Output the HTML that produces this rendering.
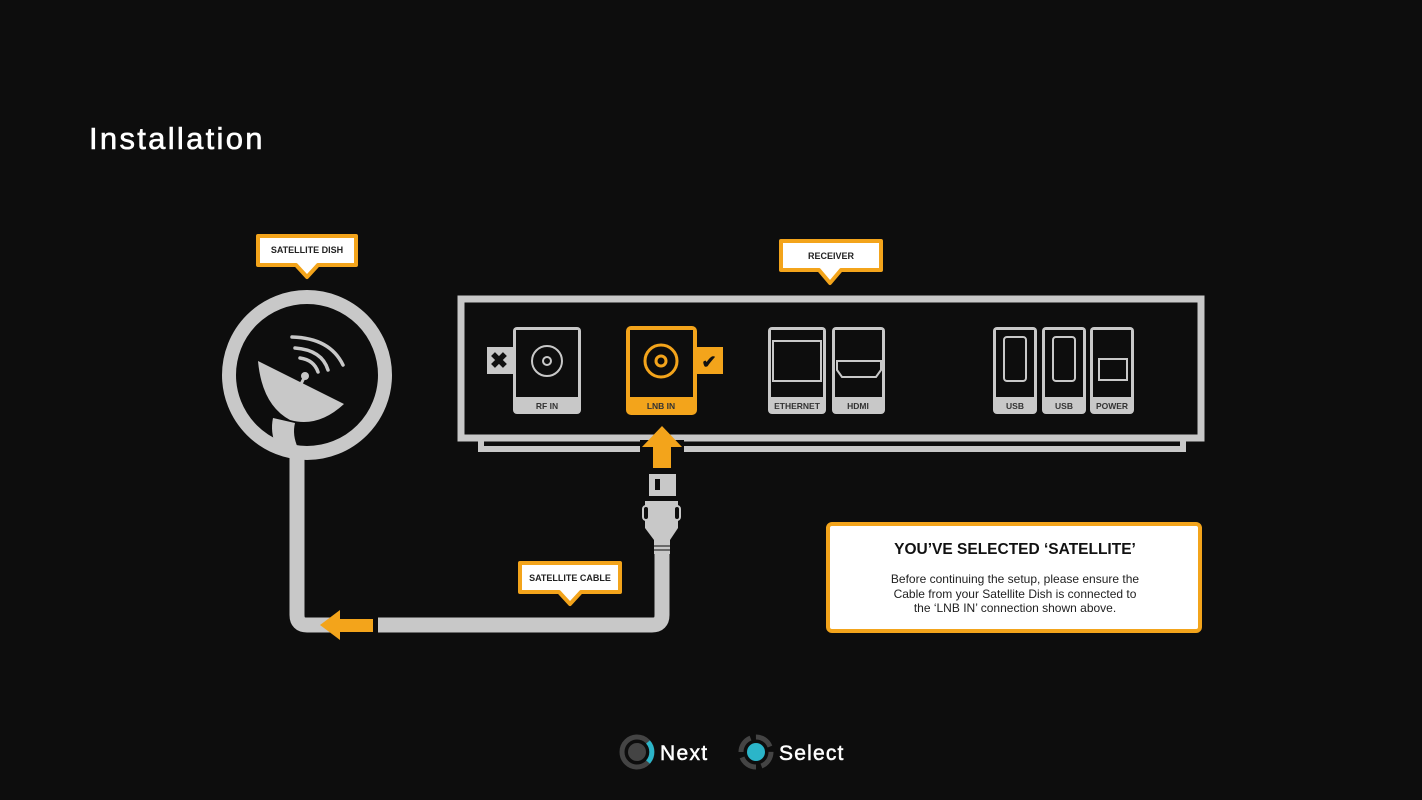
<!DOCTYPE html>
<html><head><meta charset="utf-8"><style>
html,body{margin:0;padding:0;background:#0d0d0d;}
svg{display:block}
text{font-family:"Liberation Sans",sans-serif;}
</style></head><body>
<svg width="1422" height="800" viewBox="0 0 1422 800" xmlns="http://www.w3.org/2000/svg">
<rect width="1422" height="800" fill="#0d0d0d"/>
<text x="89" y="149" fill="#fff" font-size="31" stroke="#fff" stroke-width="0.6" letter-spacing="2.3">Installation</text>

<!-- cable -->
<path d="M297 455 V615 Q297 625 307 625 H340" fill="none" stroke="#c8c8c8" stroke-width="15"/>
<path d="M378 625 H652 Q662 625 662 615 V540" fill="none" stroke="#c8c8c8" stroke-width="15"/>
<polygon points="320,625 340,610 340,619 373,619 373,632 340,632 340,640" fill="#f3a41b"/>

<!-- dish circle -->
<circle cx="307" cy="375" r="78" fill="none" stroke="#c8c8c8" stroke-width="14"/>
<path d="M258 361 L344 404 Q318 428 290 420 Q262 405 258 361 Z" fill="#c8c8c8"/>
<path d="M273 418 Q270 432 276 446 L298 448 Q292 435 295 423 Z" fill="#c8c8c8"/>
<circle cx="305" cy="376" r="4" fill="#c8c8c8"/>
<line x1="305" y1="376" x2="300" y2="386" stroke="#c8c8c8" stroke-width="3"/>
<g fill="none" stroke="#c8c8c8" stroke-width="3.5" stroke-linecap="round">
<path d="M300 358 Q314 360 318 372"/>
<path d="M295 348 Q322 350 328 370"/>
<path d="M292 337 Q330 338 343 365"/>
</g>

<!-- callout satellite dish -->
<path d="M258 236 H356 V265 H318 L307 277 L296 265 H258 Z" fill="#fff" stroke="#f3a41b" stroke-width="4" stroke-linejoin="round"/>
<text x="307" y="253" font-size="9" text-anchor="middle" fill="#222" font-weight="bold">SATELLITE DISH</text>

<!-- receiver -->
<path d="M481 440 V449 H1183 V440" fill="none" stroke="#c8c8c8" stroke-width="6"/>
<rect x="461" y="299" width="740" height="139" fill="#0d0d0d" stroke="#c8c8c8" stroke-width="7"/>
<path d="M781 241 H881 V270 H841 L830 283 L819 270 H781 Z" fill="#fff" stroke="#f3a41b" stroke-width="4" stroke-linejoin="round"/>
<text x="831" y="259" font-size="9" text-anchor="middle" fill="#222" font-weight="bold">RECEIVER</text>

<!-- ports -->
<g font-size="8.5" text-anchor="middle" font-weight="bold" fill="#333">
<rect x="487" y="347" width="26" height="27" fill="#c8c8c8"/>
<text x="499" y="368" font-size="22" fill="#111" text-anchor="middle">✖</text>
<rect x="513" y="327" width="68" height="87" rx="4" fill="#c8c8c8"/>
<rect x="516" y="330" width="62" height="67" fill="#0d0d0d"/>
<circle cx="547" cy="361" r="15" fill="none" stroke="#c8c8c8" stroke-width="2"/>
<circle cx="547" cy="361" r="4" fill="none" stroke="#c8c8c8" stroke-width="2"/>
<text x="547" y="409">RF IN</text>

<rect x="697" y="347" width="26" height="27" fill="#f3a41b"/>
<text x="709" y="368" font-size="18" fill="#111">✔</text>
<rect x="626" y="326" width="71" height="89" rx="5" fill="#f3a41b"/>
<rect x="630" y="330" width="63" height="67" fill="#0d0d0d"/>
<circle cx="661" cy="361" r="16" fill="none" stroke="#f3a41b" stroke-width="3"/>
<circle cx="661" cy="361" r="5" fill="none" stroke="#f3a41b" stroke-width="3"/>
<text x="661" y="409">LNB IN</text>

<rect x="768" y="327" width="58" height="87" rx="4" fill="#c8c8c8"/>
<rect x="771" y="330" width="52" height="67" fill="#0d0d0d"/>
<rect x="773" y="341" width="48" height="40" fill="none" stroke="#c8c8c8" stroke-width="2"/>
<text x="797" y="409">ETHERNET</text>

<rect x="832" y="327" width="53" height="87" rx="4" fill="#c8c8c8"/>
<rect x="835" y="330" width="47" height="67" fill="#0d0d0d"/>
<path d="M837 361 H881 V370 L876 377 H842 L837 370 Z" fill="none" stroke="#c8c8c8" stroke-width="2"/>
<text x="858" y="409">HDMI</text>

<rect x="993" y="327" width="44" height="87" rx="4" fill="#c8c8c8"/>
<rect x="996" y="330" width="38" height="67" fill="#0d0d0d"/>
<rect x="1004" y="337" width="22" height="44" rx="3" fill="none" stroke="#c8c8c8" stroke-width="2"/>
<text x="1015" y="409">USB</text>

<rect x="1042" y="327" width="44" height="87" rx="4" fill="#c8c8c8"/>
<rect x="1045" y="330" width="38" height="67" fill="#0d0d0d"/>
<rect x="1053" y="337" width="22" height="44" rx="3" fill="none" stroke="#c8c8c8" stroke-width="2"/>
<text x="1064" y="409">USB</text>

<rect x="1090" y="327" width="44" height="87" rx="4" fill="#c8c8c8"/>
<rect x="1093" y="330" width="38" height="67" fill="#0d0d0d"/>
<rect x="1099" y="359" width="28" height="21" fill="none" stroke="#c8c8c8" stroke-width="2"/>
<text x="1112" y="409">POWER</text>
</g>

<!-- up arrow and plug -->
<rect x="640" y="440" width="44" height="12" fill="#0d0d0d"/>
<polygon points="662,426 682,447 671,447 671,468 653,468 653,447 642,447" fill="#f3a41b"/>
<rect x="649" y="474" width="27" height="22" fill="#c8c8c8"/>
<rect x="655" y="479" width="5" height="11" fill="#0d0d0d"/>
<path d="M645 501 H678 V528 L670 540 H654 L645 528 Z" fill="#c8c8c8"/>
<rect x="643" y="506" width="6" height="14" rx="3" fill="#0d0d0d" stroke="#c8c8c8" stroke-width="2"/>
<rect x="674" y="506" width="6" height="14" rx="3" fill="#0d0d0d" stroke="#c8c8c8" stroke-width="2"/>
<rect x="654" y="540" width="16" height="14" fill="#c8c8c8"/>
<line x1="654" y1="546" x2="670" y2="546" stroke="#0d0d0d" stroke-width="1"/>
<line x1="654" y1="550" x2="670" y2="550" stroke="#0d0d0d" stroke-width="1"/>

<!-- satellite cable callout -->
<path d="M520 563 H620 V592 H581 L570 604 L559 592 H520 Z" fill="#fff" stroke="#f3a41b" stroke-width="4" stroke-linejoin="round"/>
<text x="570" y="581" font-size="9" text-anchor="middle" fill="#222" font-weight="bold">SATELLITE CABLE</text>

<!-- info box -->
<rect x="828" y="524" width="372" height="107" rx="4" fill="#fff" stroke="#f3a41b" stroke-width="4"/>
<text x="1015" y="554" font-size="15.5" text-anchor="middle" fill="#111" font-weight="bold">YOU’VE SELECTED ‘SATELLITE’</text>
<g font-size="12" text-anchor="middle" fill="#222">
<text x="1015" y="583">Before continuing the setup, please ensure the</text>
<text x="1015" y="598">Cable from your Satellite Dish is connected to</text>
<text x="1015" y="612">the ‘LNB IN’ connection shown above.</text>
</g>

<!-- bottom nav -->
<circle cx="637" cy="752" r="15" fill="none" stroke="#444" stroke-width="5"/>
<path d="M648 742 A15 15 0 0 1 648 762" fill="none" stroke="#2bb5c9" stroke-width="5"/>
<circle cx="637" cy="752" r="9" fill="#444"/>
<text x="660" y="760" font-size="21" fill="#fff" stroke="#fff" stroke-width="0.5" letter-spacing="1.3">Next</text>
<circle cx="756" cy="752" r="15" fill="none" stroke="#444" stroke-width="5" stroke-dasharray="18 5.5"/>
<circle cx="756" cy="752" r="9" fill="#2bb5c9"/>
<text x="779" y="760" font-size="21" fill="#fff" stroke="#fff" stroke-width="0.5" letter-spacing="1.2">Select</text>
</svg>
</body></html>
